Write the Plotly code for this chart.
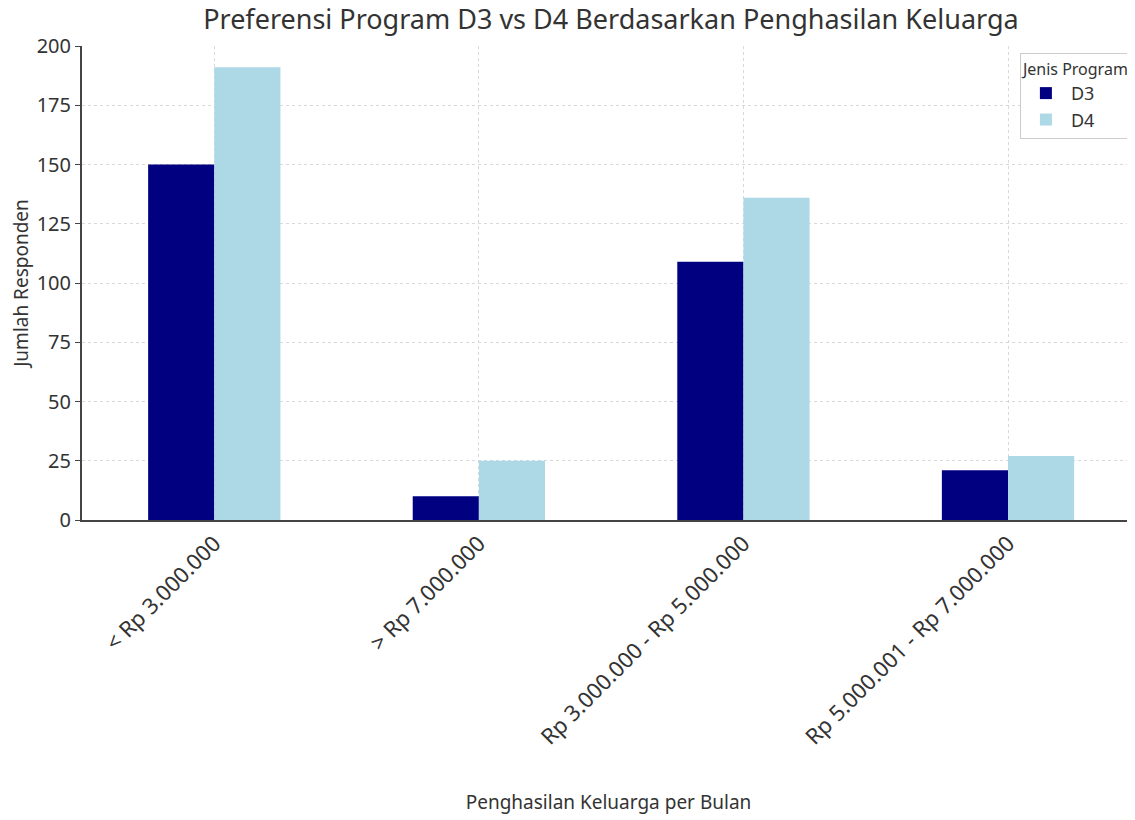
import plotly.graph_objects as go

categories = ["< Rp 3.000.000", "> Rp 7.000.000", "Rp 3.000.000 - Rp 5.000.000", "Rp 5.000.001 - Rp 7.000.000"]
d3_values = [150, 10, 109, 21]
d4_values = [191, 25, 136, 27]
y_ticks = [0, 25, 50, 75, 100, 125, 150, 175, 200]

font = "Noto Sans, Open Sans, DejaVu Sans, sans-serif"

fig = go.Figure()
fig.add_trace(go.Bar(x=categories, y=d3_values, name="D3", marker_color="#000080",
                     marker_line_width=0))
fig.add_trace(go.Bar(x=categories, y=d4_values, name="D4", marker_color="#add8e6",
                     marker_line_width=0))

fig.update_layout(
    width=1127, height=812,
    margin=dict(l=74, r=0, t=38, b=300),
    paper_bgcolor="white", plot_bgcolor="white",
    barmode="group", bargap=0.5, bargroupgap=0,
    font=dict(family=font, color="#333333"),
    title=dict(text="Preferensi Program D3 vs D4 Berdasarkan Penghasilan Keluarga",
               x=0.535, xanchor="center", y=1, yanchor="top",
               pad=dict(t=2, b=0),
               font=dict(size=27, color="#333333")),
    legend=dict(title=dict(text="Jenis Program", font=dict(size=16)),
                x=0.998, xanchor="right", y=0.985, yanchor="top",
                bordercolor="#cccccc", borderwidth=1, bgcolor="white",
                font=dict(size=18), itemwidth=40),
)
fig.update_xaxes(
    range=[-0.5, 3.48], tickangle=-45, tickfont=dict(size=22),
    showgrid=True, gridcolor="#d9d9d9", griddash="3px,3px",
    showline=True, linecolor="#444444", linewidth=2,
    title=dict(text="Penghasilan Keluarga per Bulan", font=dict(size=19), standoff=46),
)
fig.update_yaxes(
    range=[0, 200], tickvals=y_ticks, tickfont=dict(size=20),
    ticks="outside", ticklen=5, tickcolor="#444444",
    showgrid=True, gridcolor="#d9d9d9", griddash="3px,3px", zeroline=False,
    showline=True, linecolor="#444444", linewidth=2,
    title=dict(text="Jumlah Responden", font=dict(size=19), standoff=10),
)

fig.write_html("out.html")
